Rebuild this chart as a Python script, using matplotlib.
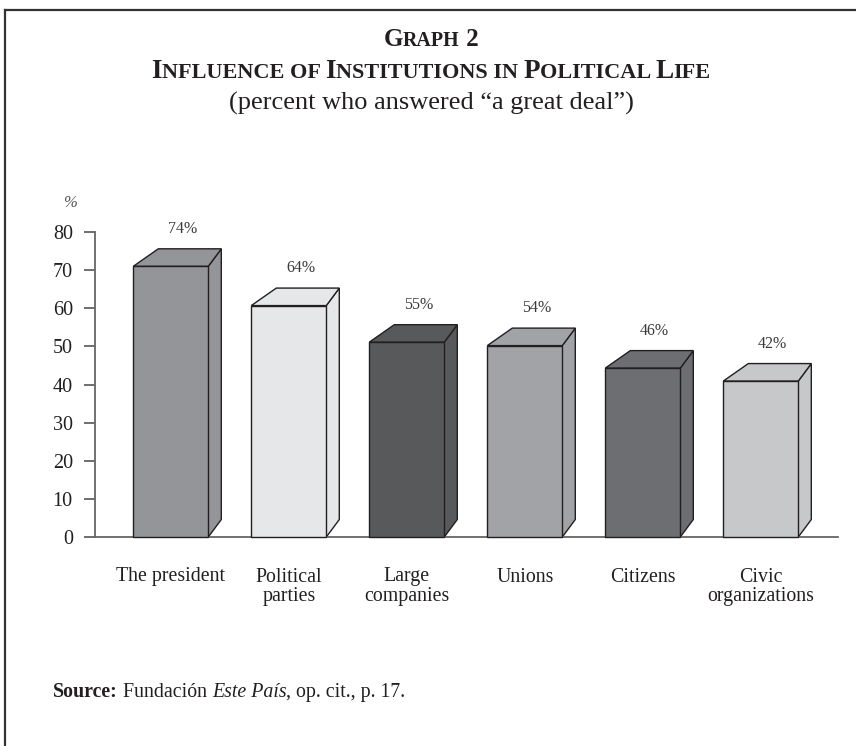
import matplotlib
matplotlib.use("Agg")
import matplotlib.pyplot as plt
from matplotlib.patches import Polygon
from matplotlib.offsetbox import TextArea, HPacker, AnchoredOffsetbox
from matplotlib.lines import Line2D

# ---- data ----
categories = ["The president", "Political\nparties", "Large\ncompanies",
              "Unions", "Citizens", "Civic\norganizations"]
values = [74, 64, 55, 54, 46, 42]            # labelled percentages
front_heights = [71.0, 60.7, 51.1, 50.2, 44.3, 40.9]  # height of bar front face as drawn
value_labels = ["74%", "64%", "55%", "54%", "46%", "42%"]
yticks = [0, 10, 20, 30, 40, 50, 60, 70, 80]

face_colors = ["#939598", "#e6e7e8", "#58595b", "#a2a3a6", "#6d6e71", "#c7c8ca"]
edge = "#231f20"
text_col = "#231f20"
serif = ["Liberation Serif", "DejaVu Serif"]

W, H = 856, 746
fig = plt.figure(figsize=(W / 100, H / 100), dpi=100)

# background overlay axes in pixel coordinates
bg = fig.add_axes([0, 0, 1, 1])
bg.set_xlim(0, W)
bg.set_ylim(H, 0)
bg.axis("off")
bg.add_line(Line2D([5.5, 5.5], [10, H], color="#333333", lw=1.6))
bg.add_line(Line2D([5.5, W], [10, 10], color="#333333", lw=1.6))

# ---- main axes ----
ax_left, ax_right, ax_top, ax_bot = 95, 838, 232, 537
ax = fig.add_axes([ax_left / W, (H - ax_bot) / H,
                   (ax_right - ax_left) / W, (ax_bot - ax_top) / H])
px_per_x = 118.0
first_center = 170.8
ax.set_xlim((ax_left - first_center) / px_per_x, (ax_right - first_center) / px_per_x)
ax.set_ylim(0, 80)
px_per_y = (ax_bot - ax_top) / 80.0

bw = 75 / px_per_x
dxl = 25 / px_per_x
dxr = 13 / px_per_x
dy = 17.5 / px_per_y

for i, (h, c) in enumerate(zip(front_heights, face_colors)):
    x0 = i - bw / 2
    x1 = i + bw / 2
    side = Polygon([(x1, 0), (x1 + dxr, dy), (x1 + dxr, h + dy), (x1, h)],
                   closed=True, facecolor=c, edgecolor=edge, lw=1.0, clip_on=False, zorder=2)
    top = Polygon([(x0, h), (x1, h), (x1 + dxr, h + dy), (x0 + dxl, h + dy)],
                  closed=True, facecolor=c, edgecolor=edge, lw=1.0, clip_on=False, zorder=2)
    front = Polygon([(x0, 0), (x1, 0), (x1, h), (x0, h)],
                    closed=True, facecolor=c, edgecolor=edge, lw=1.0, clip_on=False, zorder=3)
    for p in (side, top, front):
        ax.add_patch(p)
    ax.text(i + 12 / px_per_x, h + dy + 5.2, value_labels[i], ha="center", va="center",
            fontsize=11.5, family=serif, color="#3a3a3a", clip_on=False)

ax.set_xticks([])
ax.set_yticks(yticks)
ax.set_yticklabels([str(t) for t in yticks], family=serif, fontsize=14.5, color=text_col)
ax.tick_params(axis="y", direction="out", length=8, width=1.2, color="#555555", pad=8)
for s in ("top", "right"):
    ax.spines[s].set_visible(False)
ax.spines["left"].set_color("#666666")
ax.spines["left"].set_linewidth(1.3)
ax.spines["bottom"].set_color("#666666")
ax.spines["bottom"].set_linewidth(1.3)
ax.patch.set_alpha(0)

# category labels
for i, cat in enumerate(categories):
    ax.text(i, -8.0, cat, ha="center", va="top", fontsize=14.3, family=serif,
            color=text_col, linespacing=1.0, clip_on=False)

bg.text(70, 203, "%", ha="center", va="center", fontsize=12, family=serif,
        style="italic", color="#555555")

# ---- small caps titles ----
def small_caps(parts, size, weight, ratio):
    boxes = []
    for txt, big in parts:
        boxes.append(TextArea(txt, textprops=dict(fontsize=size if big else size * ratio,
                                                  family=serif, weight=weight, color=text_col)))
    return HPacker(children=boxes, align="baseline", pad=0, sep=0)

def place(box, x, y):
    ab = AnchoredOffsetbox(loc="center", child=box, pad=0, borderpad=0, frameon=False,
                           bbox_to_anchor=(x / W, 1 - y / H), bbox_transform=fig.transFigure)
    bg.add_artist(ab)

line1 = [("G", True), ("RAPH", False), (" 2", True)]
line2 = [("I", True), ("NFLUENCE OF ", False), ("I", True), ("NSTITUTIONS IN ", False),
         ("P", True), ("OLITICAL ", False), ("L", True), ("IFE", False)]
place(small_caps(line1, 18, "bold", 0.8), 431, 40)
place(small_caps(line2, 19.5, "bold", 0.82), 431, 72)
bg.text(431, 103, "(percent who answered \u201ca great deal\u201d)", ha="center", va="center",
        fontsize=19, family=serif, color=text_col)

# source
fs = 14.3
src = HPacker(children=[
    TextArea("Source:", textprops=dict(fontsize=fs, family=serif, weight="bold", color=text_col)),
    TextArea(" Fundaci\u00f3n ", textprops=dict(fontsize=fs, family=serif, color=text_col)),
    TextArea("Este Pa\u00eds", textprops=dict(fontsize=fs, family=serif, style="italic", color=text_col)),
    TextArea(", op. cit., p. 17.", textprops=dict(fontsize=fs, family=serif, color=text_col)),
], align="baseline", pad=0, sep=0)
ab = AnchoredOffsetbox(loc="center left", child=src, pad=0, borderpad=0, frameon=False,
                       bbox_to_anchor=(53 / W, 1 - 692 / H), bbox_transform=fig.transFigure)
bg.add_artist(ab)

fig.savefig("out.png", dpi=100)
